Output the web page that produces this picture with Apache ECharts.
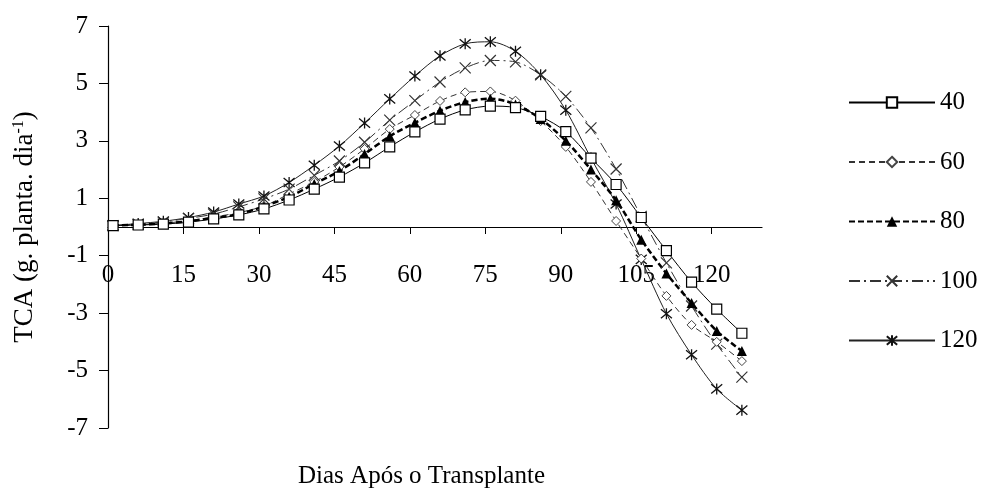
<!DOCTYPE html>
<html>
<head>
<meta charset="utf-8">
<script src="https://cdn.jsdelivr.net/npm/echarts@6/dist/echarts.min.js"></script>
<style>
  html, body { margin: 0; padding: 0; background: #fff; }
  #tca { width: 984px; height: 492px; }
</style>
</head>
<body>
<div id="tca"></div>
<script>
// dias após o transplante
var days = [1, 6, 11, 16, 21, 26, 31, 36, 41, 46, 51, 56, 61, 66, 71, 76, 81, 86, 91, 96, 101, 106, 111, 116, 121, 126];
var xTicks = [0, 15, 30, 45, 60, 75, 90, 105, 120];

var s40 = [0.05, 0.07, 0.1, 0.17, 0.28, 0.42, 0.63, 0.94, 1.32, 1.74, 2.23, 2.79, 3.31, 3.76, 4.08, 4.21, 4.16, 3.85, 3.32, 2.4, 1.48, 0.33, -0.82, -1.92, -2.86, -3.7];
var s60 = [0.05, 0.08, 0.13, 0.22, 0.35, 0.5, 0.73, 1.15, 1.57, 2.09, 2.72, 3.41, 3.9, 4.39, 4.69, 4.72, 4.4, 3.69, 2.79, 1.57, 0.21, -1.1, -2.4, -3.41, -4.0, -4.67];
var s80 = [0.05, 0.08, 0.12, 0.2, 0.32, 0.45, 0.72, 1.05, 1.5, 1.95, 2.54, 3.16, 3.63, 4.05, 4.35, 4.47, 4.27, 3.76, 3.0, 2.0, 0.93, -0.44, -1.62, -2.65, -3.62, -4.32];
var s100 = [0.05, 0.1, 0.18, 0.3, 0.45, 0.7, 0.98, 1.32, 1.8, 2.3, 2.95, 3.72, 4.4, 5.05, 5.54, 5.8, 5.75, 5.3, 4.55, 3.45, 2.02, 0.37, -1.25, -2.75, -4.08, -5.23];
var s120 = [0.05, 0.12, 0.2, 0.33, 0.52, 0.8, 1.08, 1.55, 2.15, 2.82, 3.62, 4.46, 5.26, 5.96, 6.38, 6.45, 6.12, 5.3, 4.07, 2.4, 0.8, -1.13, -3.02, -4.45, -5.64, -6.38];

var FONT = 'Liberation Serif';

function pairs(vals) {
  return days.map(function (d, i) { return [d, vals[i]]; });
}

var chart = echarts.init(document.getElementById('tca'));

var option = {
  animation: false,
  backgroundColor: '#fff',
  textStyle: { fontFamily: FONT, color: '#000' },
  grid: { left: 108, right: 222, top: 26, bottom: 64 },
  legend: {
    orient: 'vertical',
    left: 843,
    top: 85,
    itemWidth: 86,
    itemHeight: 13,
    itemGap: 34.5,
    textStyle: { fontFamily: FONT, fontSize: 25, color: '#000' },
    data: ['40', '60', '80', '100', '120']
  },
  graphic: [{
    type: 'text',
    left: 298,
    top: 464,
    style: { text: 'Dias Após o Transplante', font: '25px "Liberation Serif"', fill: '#000' }
  }],
  xAxis: {
    type: 'value',
    min: 0,
    max: 130,
    interval: 15,
    offset: -201, // eixo passa no zero (meio do grid)
    splitLine: { show: false },
    axisLine: { onZero: false, lineStyle: { color: '#000', width: 1.2 } },
    axisTick: { length: 7, customValues: xTicks, lineStyle: { color: '#000' } },
    axisLabel: { customValues: xTicks, margin: 36, fontFamily: FONT, fontSize: 25, color: '#000' }
  },
  yAxis: {
    type: 'value',
    min: -7,
    max: 7,
    interval: 2,
    splitLine: { show: false },
    name: '{a|TCA (g. planta. dia}{s|-1}{a|)}',
    nameLocation: 'middle',
    nameGap: 70,
    nameTextStyle: {
      rich: {
        a: { fontFamily: FONT, fontSize: 27, color: '#000' },
        s: { fontFamily: FONT, fontSize: 16, color: '#000', verticalAlign: 'top', padding: [0, 0, 10, 0] }
      }
    },
    axisLine: { show: true, lineStyle: { color: '#000', width: 1.2 } },
    axisTick: { show: true, length: 9, lineStyle: { color: '#000' } },
    axisLabel: { margin: 20, fontFamily: FONT, fontSize: 25, color: '#000' }
  },
  series: [
    {
      name: '120',
      type: 'line',
      data: pairs(s120),
      smooth: 0.3,
      symbol: 'path://M0,0L10,10M10,0L0,10M5,-1L5,11',
      symbolSize: 11,
      lineStyle: { color: '#222', width: 1 },
      itemStyle: { color: '#fff', borderColor: '#111', borderWidth: 1.3 }
    },
    {
      name: '100',
      type: 'line',
      data: pairs(s100),
      smooth: 0.3,
      symbol: 'path://M0,0L10,10M10,0L0,10',
      symbolSize: 11,
      lineStyle: { color: '#333', width: 1, type: [11, 4, 2, 4] },
      itemStyle: { color: '#fff', borderColor: '#333', borderWidth: 1.2 }
    },
    {
      name: '60',
      type: 'line',
      data: pairs(s60),
      smooth: 0.3,
      symbol: 'diamond',
      symbolSize: 9,
      lineStyle: { color: '#333', width: 1, type: [6, 4] },
      itemStyle: { color: '#fff', borderColor: '#444', borderWidth: 1 }
    },
    {
      name: '80',
      type: 'line',
      data: pairs(s80),
      smooth: 0.3,
      symbol: 'triangle',
      symbolSize: 10,
      lineStyle: { color: '#000', width: 2.5, type: [6, 3] },
      itemStyle: { color: '#000', borderColor: '#000', borderWidth: 0 }
    },
    {
      name: '40',
      type: 'line',
      data: pairs(s40),
      smooth: 0.3,
      symbol: 'rect',
      symbolSize: 10,
      lineStyle: { color: '#000', width: 1 },
      itemStyle: { color: '#fff', borderColor: '#000', borderWidth: 1.2 }
    }
  ]
};

chart.setOption(option);
</script>
</body>
</html>
